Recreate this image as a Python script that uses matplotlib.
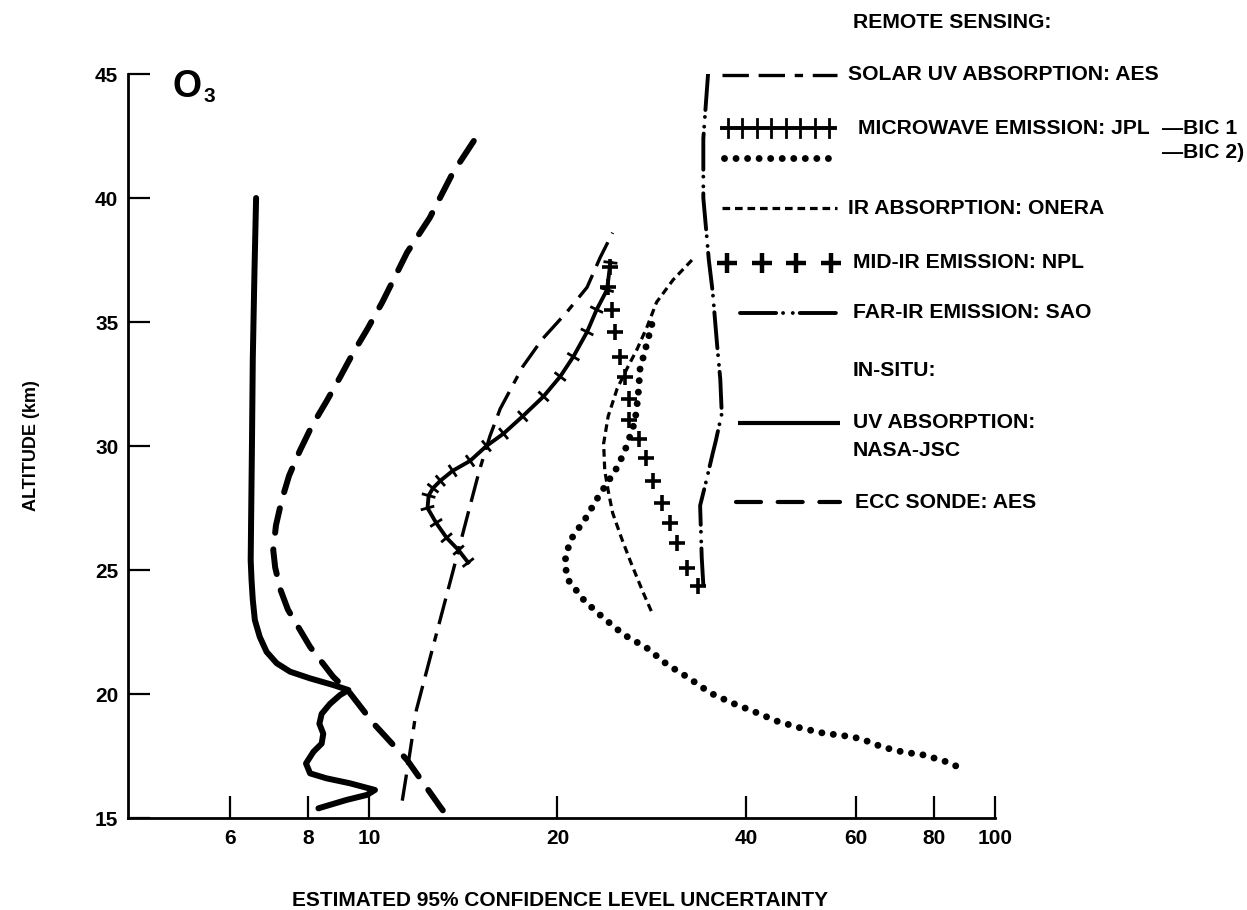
import numpy as np
import matplotlib
matplotlib.use("Agg")
import matplotlib.pyplot as plt
from matplotlib.ticker import FixedLocator, FixedFormatter, NullLocator

plt.rcParams['font.family'] = ['Liberation Sans', 'DejaVu Sans']
plt.rcParams['font.weight'] = 'bold'
plt.rcParams['lines.scale_dashes'] = False

# altitude (km) vs estimated 95% uncertainty (%) for each O3 instrument
jsc_alt = [40.0, 37.0, 33.5, 30.0, 27.0, 25.4, 24.6, 23.8, 22.98, 22.3, 21.7, 21.24,
           20.9, 20.63, 20.36, 20.16, 19.96, 19.6, 19.2, 18.8, 18.4, 18.0, 17.67,
           17.2, 16.8, 16.6, 16.4, 16.13, 15.93, 15.73, 15.39]
jsc_unc = [6.60, 6.56, 6.52, 6.50, 6.48, 6.47, 6.49, 6.52, 6.57, 6.69, 6.86, 7.12,
           7.48, 8.05, 8.77, 9.27, 8.99, 8.66, 8.40, 8.33, 8.45, 8.40, 8.15,
           7.93, 8.05, 8.55, 9.32, 10.22, 9.92, 9.21, 8.30]

ecc_alt = [42.3, 41.0, 39.2, 37.8, 35.8, 34.7, 33.75, 32.8, 31.8, 30.8, 29.8, 28.8,
           27.8, 26.8, 25.8, 25.1, 24.2, 23.4, 21.9, 20.7, 20.04, 18.83, 17.34,
           15.44, 15.0]
ecc_unc = [14.7, 13.6, 12.5, 11.5, 10.5, 9.93, 9.43, 9.0, 8.55, 8.1, 7.75, 7.45,
           7.25, 7.1, 7.03, 7.08, 7.22, 7.42, 8.05, 8.76, 9.32, 10.15, 11.5,
           13.0, 13.4]

solar_alt = [15.7, 17.5, 19.35, 22.06, 24.9, 27.3, 29.0, 30.4, 31.5, 33.2, 34.3,
             35.4, 36.4, 37.6, 38.6]
solar_unc = [11.3, 11.6, 11.9, 12.7, 13.6, 14.4, 15.0, 15.6, 16.2, 17.6, 18.9,
             20.7, 22.3, 23.4, 24.5]

bic1_alt = [37.4, 36.3, 35.5, 34.6, 33.6, 32.8, 32.0, 31.2, 30.5, 30.0, 29.4, 29.0,
            28.6, 28.3, 28.0, 27.5, 26.9, 26.3, 25.8, 25.3]
bic1_unc = [24.3, 24.0, 23.1, 22.3, 21.2, 20.2, 19.0, 17.6, 16.4, 15.4, 14.5, 13.6,
            13.0, 12.65, 12.45, 12.4, 12.8, 13.3, 13.9, 14.4]

bic2_alt = [34.9, 34.0, 33.1, 32.0, 31.0, 30.0, 29.2, 28.5, 28.0, 27.1, 26.3, 25.6,
            25.1, 24.6, 23.75, 23.1, 22.4, 21.85, 21.2, 20.65, 20.04, 19.64, 19.27,
            18.9, 18.63, 18.43, 18.3, 18.2, 17.86, 17.66, 17.54, 17.26, 17.06]
bic2_unc = [28.3, 27.7, 27.1, 26.9, 26.6, 25.8, 25.0, 24.0, 23.3, 22.2, 21.1, 20.6,
            20.6, 20.8, 22.1, 23.6, 25.5, 27.8, 29.9, 32.4, 35.1, 38.0, 41.4,
            44.9, 48.9, 53.0, 58.0, 61.0, 66.1, 71.3, 77.0, 83.8, 87.3]

onera_alt = [37.5, 36.7, 35.8, 34.8, 33.9, 33.1, 32.3, 31.2, 30.1, 29.0, 28.2,
             27.3, 26.3, 25.3, 24.1, 23.2]
onera_unc = [32.8, 30.6, 28.8, 27.8, 26.8, 25.8, 24.9, 24.1, 23.7, 23.8, 24.1,
             24.5, 25.3, 26.2, 27.4, 28.4]

npl_alt = [37.2, 36.4, 35.5, 34.6, 33.6, 32.8, 31.9, 31.05, 30.3, 29.5, 28.6,
           27.7, 26.9, 26.1, 25.1, 24.35]
npl_unc = [24.3, 24.1, 24.4, 24.7, 25.2, 25.6, 26.0, 26.0, 27.0, 27.7, 28.4,
           29.4, 30.2, 31.0, 32.2, 33.5]

sao_alt = [45.0, 42.4, 40.0, 37.5, 36.2, 34.0, 32.7, 31.3, 30.2, 29.7, 28.5,
           27.6, 25.5, 24.4]
sao_unc = [34.8, 34.2, 34.2, 34.9, 35.4, 36.0, 36.4, 36.6, 35.8, 35.4, 34.5,
           33.8, 34.0, 34.2]

xticks = [6, 8, 10, 20, 40, 60, 80, 100]
yticks = [15, 20, 25, 30, 35, 40, 45]

# line styles shared by curves and key
st_solar = dict(color='k', lw=2.4, ls=(0, (19, 7, 19, 7, 6, 7)), dash_capstyle='butt')
st_bic1 = dict(color='k', lw=2.8, solid_joinstyle='round')
st_bic2 = dict(color='k', lw=5.0, ls=(0, (0.01, 8.3)), dash_capstyle='round')
st_onera = dict(color='k', lw=2.3, ls=(0, (5.5, 3.5)), dash_capstyle='butt')
st_npl = dict(color='k', ls='none', marker='+', ms=11, mew=2.6)
st_sao = dict(color='k', lw=2.8, ls=(0, (26, 5, 0.01, 7, 0.01, 5)), dash_capstyle='round')
st_jsc = dict(color='k', lw=4.3, solid_capstyle='round', solid_joinstyle='round')
st_ecc = dict(color='k', lw=4.3, ls=(0, (18, 12)), dash_capstyle='round',
              dash_joinstyle='round')

W, H = 1247, 910
fig = plt.figure(figsize=(W / 100, H / 100), dpi=100)
ax = fig.add_axes([128 / W, 1 - 818 / H, (995 - 128) / W, (818 - 74) / H])
ax.set_xscale('log')
ax.set_xlim(4.12, 100)
ax.set_ylim(15, 45)
for s in ['top', 'right']:
    ax.spines[s].set_visible(False)
for s in ['left', 'bottom']:
    ax.spines[s].set_linewidth(2.0)
ax.xaxis.set_major_locator(FixedLocator(xticks))
ax.xaxis.set_major_formatter(FixedFormatter([str(t) for t in xticks]))
ax.xaxis.set_minor_locator(NullLocator())
ax.yaxis.set_major_locator(FixedLocator(yticks))
ax.tick_params(direction='in', length=16, width=1.6, labelsize=15, pad=7)
ax.tick_params(axis='x', pad=8)

ax.plot(jsc_unc, jsc_alt, **st_jsc)
ax.plot(ecc_unc, ecc_alt, **st_ecc)
ax.plot(solar_unc, solar_alt, **st_solar)
ax.plot(onera_unc, onera_alt, **st_onera)
ax.plot(bic2_unc, bic2_alt, **st_bic2)
ax.plot(sao_unc, sao_alt, **st_sao)
ax.plot(bic1_unc, bic1_alt, **st_bic1)

# cross ticks along the BIC 1 curve, perpendicular to the line
pts = ax.transData.transform(np.column_stack([bic1_unc, bic1_alt]))
inv = ax.transData.inverted()
for i in range(len(pts)):
    a = pts[max(i - 1, 0)]
    b = pts[min(i + 1, len(pts) - 1)]
    d = (b - a) / np.hypot(*(b - a))
    n = np.array([-d[1], d[0]]) * 7
    seg = inv.transform([pts[i] - n, pts[i] + n])
    ax.plot(seg[:, 0], seg[:, 1], color='k', lw=2.0, solid_capstyle='butt')

ax.plot(npl_unc, npl_alt, **st_npl)

# overlay in pixel units for the key and labels
ov = fig.add_axes([0, 0, 1, 1])
ov.set_xlim(0, W)
ov.set_ylim(H, 0)
ov.axis('off')

ov.text(172, 87, 'O', fontsize=27, ha='left', va='center')
ov.text(204, 97, '3', fontsize=15, ha='left', va='center')

fs = 15.2
ov.text(853, 22, 'REMOTE SENSING:', fontsize=fs, va='center')
ov.plot([722, 837], [75, 75], **st_solar)
ov.text(848, 75, 'SOLAR UV ABSORPTION: AES', fontsize=fs, va='center')

ov.plot([722, 835], [128, 128], **st_bic1)
for tx in np.linspace(728, 829, 8):
    ov.plot([tx, tx], [119, 137], color='k', lw=2.0)
ov.text(858, 128, 'MICROWAVE EMISSION: JPL', fontsize=fs, va='center')
ov.text(1162, 128, '\u2014BIC 1', fontsize=fs, va='center')
ov.plot([724, 836], [158, 158], **st_bic2)
ov.text(1162, 153, '\u2014BIC 2)', fontsize=fs, va='center')

ov.plot([722, 837], [208, 208], **st_onera)
ov.text(848, 208, 'IR ABSORPTION: ONERA', fontsize=fs, va='center')

ov.plot(np.linspace(727, 831, 4), [263] * 4, **{**st_npl, 'ms': 14, 'mew': 3.2})
ov.text(853, 263, 'MID-IR EMISSION: NPL', fontsize=fs, va='center')

ov.plot([740, 840], [313, 313], **st_sao)
ov.text(853, 313, 'FAR-IR EMISSION: SAO', fontsize=fs, va='center')

ov.text(853, 370, 'IN-SITU:', fontsize=fs, va='center')
ov.plot([738, 840], [423, 423], **{**st_jsc, 'lw': 3.0, 'solid_capstyle': 'butt'})
ov.text(853, 423, 'UV ABSORPTION:', fontsize=fs, va='center')
ov.text(853, 450, 'NASA-JSC', fontsize=fs, va='center')
ov.plot([736, 840], [502, 502], **{**st_ecc, 'lw': 3.0})
ov.text(855, 502, 'ECC SONDE: AES', fontsize=fs, va='center')

ov.text(32, 446, 'ALTITUDE (km)', fontsize=13, rotation=90, ha='center', va='center')
ov.text(560, 900, 'ESTIMATED 95% CONFIDENCE LEVEL UNCERTAINTY', fontsize=15,
        ha='center', va='center')

fig.savefig('out.png', dpi=100)
